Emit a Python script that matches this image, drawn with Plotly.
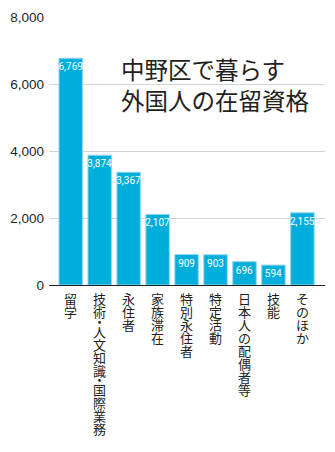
import plotly.graph_objects as go

categories = ["留学", "技術・人文知識・国際業務", "永住者", "家族滞在", "特別永住者",
              "特定活動", "日本人の配偶者等", "技能", "そのほか"]
values = [6769, 3874, 3367, 2107, 909, 903, 696, 594, 2155]
y_ticks = [0, 2000, 4000, 6000, 8000]
y_ticklabels = ["0", "2,000", "4,000", "6,000", "8,000"]
title_lines = ["中野区で暮らす", "外国人の在留資格"]

BAR = "#00AEDC"
INK = "#231f20"
JP = "Noto Sans CJK JP"
NUM = "Roboto, Liberation Sans, sans-serif"

fig = go.Figure()
fig.add_trace(go.Bar(
    x=list(range(len(categories))), y=values,
    marker=dict(color=BAR, line=dict(width=1, color="#8fd6ef")),
    text=[f"{v:,}" for v in values],
    textposition="inside", insidetextanchor="end", textangle=0,
    textfont=dict(family=NUM, size=10, color="white"),
    constraintext="none", cliponaxis=False,
    hoverinfo="skip",
))

annotations = []
# vertical category labels, one character per row (middle dots take half a row)
for i, label in enumerate(categories):
    offset = 2.0
    for ch in label:
        step = 6.5 if ch == "・" else 13.0
        annotations.append(dict(
            x=i, y=0, xref="x", yref="paper", text=ch, showarrow=False,
            xanchor="center", yanchor="top",
            yshift=-offset - (step - 13.0) / 2,
            font=dict(family=JP, size=13, color=INK),
        ))
        offset += step
annotations.append(dict(
    x=1.66, y=5980, xref="x", yref="y", xanchor="left", yanchor="middle",
    text="<br>".join(title_lines), showarrow=False, align="left",
    font=dict(family=JP, size=23.5, color=INK),
))

fig.update_layout(
    width=335, height=452,
    margin=dict(l=43, r=10, t=17, b=167),
    paper_bgcolor="white", plot_bgcolor="white",
    bargap=0.19, showlegend=False,
    annotations=annotations,
    xaxis=dict(range=[-0.75, 8.78], showticklabels=False, showgrid=False,
               zeroline=False, showline=True, linecolor=INK, linewidth=1.2,
               ticks="", fixedrange=True),
    yaxis=dict(range=[0, 8000], tickvals=y_ticks, ticktext=y_ticklabels,
               showgrid=True, gridcolor="#d4d4d4", gridwidth=1,
               zeroline=False, showline=False, ticks="",
               tickfont=dict(family="Liberation Sans, Arial, sans-serif", size=13.5, color=INK),
               ticklabelstandoff=4, fixedrange=True),
)

fig.write_html("out.html", config={"displayModeBar": False})
